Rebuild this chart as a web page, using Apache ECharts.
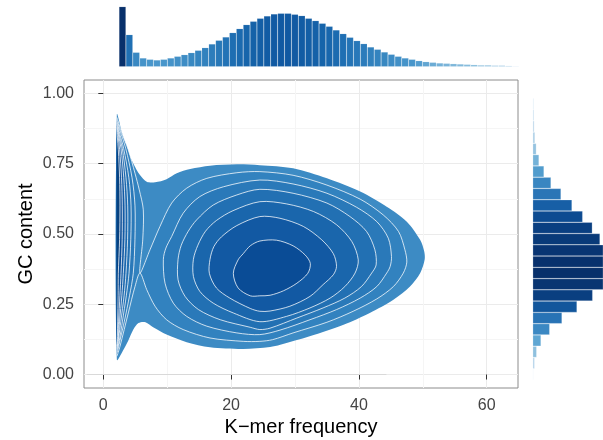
<!DOCTYPE html>
<html>
<head>
<meta charset="utf-8">
<script src="https://cdn.jsdelivr.net/npm/echarts@6/dist/echarts.min.js"></script>
<style>
  html, body { margin: 0; padding: 0; background: #fff; }
  #chart { width: 603px; height: 440px; }
</style>
</head>
<body>
<div id="chart"></div>
<script>
// ---- marginal histogram on top: k-mer frequency bins and their heights
const kmerBins = [2,3,4,5,6,7,8,9,10,11,12,13,14,15,16,17,18,19,20,21,22,23,24,25,26,27,28,29,30,31,
  32,33,34,35,36,37,38,39,40,41,42,43,44,45,46,47,48,49,50,51,52,53,54,55,56,57,58,59]
const kmerCounts = [180,96,43,26,22,20,22,26,31,36,42,49,57,68,79,89,102,114,126,136,145,152,158,160,160,
  157,153,145,138,130,121,110,99,88,78,69,59,52,44,37,31,26,22,18,15,13,11,10,9,8,7,6,5,5,4,4,3,2]

// ---- marginal histogram on the right: GC bins (bottom -> top)
const gcBins = ['0.00','0.04','0.08','0.12','0.16','0.20','0.24','0.28','0.32','0.36','0.40','0.44','0.48',
  '0.52','0.56','0.60','0.64','0.68','0.72','0.76','0.80','0.84','0.88','0.92','0.96']
const gcCounts = [2,6,12,25,51,88,133,180,228,250,245,225,202,179,150,118,85,55,34,19,11,7,5,4,3]

// ---- density contours, [k-mer frequency, GC content]
const outerBoundary = [[2.12,0.053],[3.2,0.09],[3.9,0.12],[4.7,0.16],[5.5,0.183],[6.6,0.186],[7.8,0.168],
  [9.9,0.142],[13.05,0.115],[16.7,0.097],[21.9,0.091],[26.1,0.098],[27.7,0.106],[32.3,0.136],[37.6,0.177],
  [41.7,0.219],[45.4,0.266],[48.0,0.313],[49.6,0.361],[50.3,0.41],[50.2,0.44],[49.6,0.479],[47.5,0.544],
  [44.35,0.597],[40.2,0.651],[35.0,0.698],[29.7,0.734],[24.5,0.745],[20.9,0.748],[16.7,0.743],[13.6,0.731],
  [11.5,0.716],[9.9,0.695],[8.1,0.684],[6.8,0.686],[5.74,0.71],[4.69,0.751],[3.66,0.805],[2.88,0.864],[2.12,0.925]]
const contourL1 = [[2.14,0.065],[2.61,0.10],[3.91,0.219],[4.96,0.313],[5.74,0.361],[6.8,0.302],[8.1,0.243],
  [9.9,0.195],[12.5,0.16],[16.7,0.13],[21.9,0.118],[24.5,0.118],[26.5,0.124],[29.7,0.148],[35.0,0.186],
  [39.1,0.225],[42.8,0.269],[45.4,0.313],[46.95,0.361],[47.5,0.40],[47.2,0.444],[46.2,0.509],[43.8,0.568],
  [40.2,0.624],[35.0,0.674],[29.7,0.709],[24.5,0.722],[20.9,0.718],[16.2,0.698],[13.05,0.663],[10.7,0.61],
  [8.87,0.527],[7.31,0.444],[5.74,0.361],[6.17,0.479],[6.26,0.586],[5.63,0.657],[4.96,0.716],[3.9,0.80],
  [2.9,0.86],[2.14,0.915]]
const contourL2 = [[9.4,0.41],[9.8,0.45],[10.7,0.491],[12.5,0.574],[15.1,0.633],[18.8,0.668],[24.5,0.692],
  [29.7,0.678],[35.0,0.645],[39.65,0.595],[42.8,0.544],[44.6,0.485],[45.1,0.42],[44.9,0.385],[44.35,0.361],
  [42.8,0.313],[40.2,0.272],[36.5,0.231],[32.35,0.195],[27.65,0.158],[24.5,0.142],[20.9,0.148],[16.2,0.172],
  [13.05,0.207],[10.96,0.254],[9.66,0.325]]
const contourL3 = [[11.7,0.41],[12.2,0.46],[13.3,0.51],[14.6,0.55],[17.2,0.603],[20.9,0.639],[24.5,0.659],
  [29.7,0.645],[35.0,0.61],[38.6,0.562],[41.2,0.509],[42.5,0.444],[42.7,0.39],[42.0,0.361],[40.4,0.313],
  [37.8,0.272],[34.4,0.237],[30.3,0.201],[26.1,0.165],[24.5,0.160],[23.0,0.168],[18.3,0.195],[14.9,0.231],
  [12.8,0.278],[11.7,0.337]]
const contourL4 = [[14.1,0.41],[14.8,0.46],[16.0,0.51],[17.7,0.548],[20.3,0.583],[24.5,0.615],[28.7,0.607],
  [32.9,0.58],[36.5,0.533],[38.9,0.473],[39.9,0.408],[39.4,0.361],[37.8,0.313],[35.5,0.272],[32.35,0.237],
  [28.7,0.207],[24.5,0.188],[20.35,0.219],[17.2,0.254],[15.1,0.296],[14.1,0.349]]
const contourL5 = [[16.7,0.41],[17.3,0.455],[18.5,0.49],[20.9,0.53],[24.5,0.562],[27.65,0.556],[31.3,0.527],
  [34.2,0.479],[36.0,0.43],[36.5,0.385],[36.0,0.355],[34.4,0.32],[32.35,0.278],[29.2,0.243],[26.1,0.226],
  [24.5,0.225],[23.0,0.235],[19.8,0.272],[17.7,0.308],[16.6,0.36]]
const contourL6 = [[21.1,0.408],[21.9,0.43],[23.0,0.458],[24.5,0.475],[27.1,0.478],[29.7,0.458],[31.6,0.425],
  [32.4,0.395],[32.0,0.36],[30.3,0.325],[28.2,0.298],[26.1,0.282],[24.5,0.28],[23.0,0.28],[21.1,0.308],[20.35,0.36]]
// narrow lobe of low-frequency k-mers, bottom-left -> right side -> top-left
const spikeL2 = [[2.14,0.075],[2.6,0.12],[3.3,0.19],[4.1,0.28],[4.69,0.36],[4.95,0.48],[4.96,0.60],[4.5,0.70],[3.5,0.805],[2.6,0.87],[2.14,0.91]]
const spikeL3 = [[2.14,0.08],[2.5,0.12],[3.0,0.19],[3.6,0.28],[4.02,0.36],[4.3,0.48],[4.34,0.60],[4.0,0.70],[3.18,0.805],[2.5,0.865],[2.14,0.905]]
const spikeL4 = [[2.14,0.085],[2.4,0.13],[2.75,0.19],[3.25,0.28],[3.55,0.36],[3.8,0.48],[3.82,0.60],[3.55,0.70],[2.97,0.805],[2.42,0.86],[2.14,0.90]]
const spikeL5 = [[2.14,0.09],[2.33,0.13],[2.55,0.19],[2.9,0.28],[3.13,0.36],[3.38,0.48],[3.40,0.60],[3.2,0.70],[2.77,0.805],[2.36,0.855],[2.14,0.895]]
const spikeL6 = [[2.14,0.095],[2.27,0.135],[2.4,0.19],[2.6,0.28],[2.77,0.36],[2.95,0.48],[2.97,0.60],[2.85,0.70],[2.56,0.80],[2.3,0.85],[2.14,0.89]]
const spikeL7 = [[2.14,0.10],[2.2,0.14],[2.25,0.19],[2.32,0.28],[2.35,0.36],[2.55,0.48],[2.61,0.60],[2.55,0.70],[2.35,0.80],[2.2,0.845],[2.14,0.88]]

// faint trace of k-mers with GC = 0
const zeroGcSpan = [[-2.6, 0], [44.3, 0]]

// ---- styling
const levelFills = ['#3d8bc4', '#3282bf', '#2a79b9', '#2270b3', '#1a66ac', '#1259a3', '#0a4c96', '#08427f']
const contours = [
  { pts: outerBoundary, level: 0, stroke: null },
  { pts: contourL1, level: 1, stroke: 'open' },
  { pts: contourL2, level: 2, stroke: 'closed' },
  { pts: spikeL2, level: 2, stroke: 'open' },
  { pts: contourL3, level: 3, stroke: 'closed' },
  { pts: spikeL3, level: 3, stroke: 'open' },
  { pts: contourL4, level: 4, stroke: 'closed' },
  { pts: spikeL4, level: 4, stroke: 'open' },
  { pts: contourL5, level: 5, stroke: 'closed' },
  { pts: spikeL5, level: 5, stroke: 'open' },
  { pts: contourL6, level: 6, stroke: 'closed' },
  { pts: spikeL6, level: 6, stroke: 'open' },
  { pts: spikeL7, level: 7, stroke: 'open' },
]

const topStops = [[0,'#c6dbef'],[6,'#8cc0de'],[20,'#4a97cc'],[45,'#3787c1'],[96,'#2070b4'],
  [130,'#1664aa'],[160,'#1159a2'],[170,'#0d4889'],[180,'#08306b']]
const rightStops = [[0,'#e3eef8'],[6,'#b6d4ea'],[12,'#8ec0de'],[25,'#5ea6d3'],[50,'#3b89c3'],
  [85,'#2a75b6'],[118,'#175fa6'],[150,'#0d4b91'],[180,'#0a3f80'],[250,'#08306b']]

const hex = (c) => [1, 3, 5].map((i) => parseInt(c.slice(i, i + 2), 16))
const ramp = (stops, v) => {
  for (let i = 1; i < stops.length; i++) {
    if (v <= stops[i][0]) {
      const t = (v - stops[i - 1][0]) / (stops[i][0] - stops[i - 1][0])
      const a = hex(stops[i - 1][1]), b = hex(stops[i][1])
      return 'rgb(' + a.map((x, k) => Math.round(x + (b[k] - x) * t)).join(',') + ')'
    }
  }
  return stops[stops.length - 1][1]
}

const font = "'Liberation Sans', Arial, Helvetica, sans-serif"
const lineColor = 'rgba(255,255,255,0.85)'
const hidden = { show: false }

const chart = echarts.init(document.getElementById('chart'))

chart.setOption({
  animation: false,
  backgroundColor: '#fff',
  grid: [
    { left: 84, top: 80, width: 434, height: 308, outerBoundsMode: 'none', show: true, borderColor: '#8c8c8c', borderWidth: 1, backgroundColor: '#fff' },
    { left: 119, top: 0, width: 400, height: 66.7, outerBoundsMode: 'none' },
    // right strip runs past the window edge; long bars are cut there
    { left: 532.7, top: 98.3, width: 70.3, height: 281.7, outerBoundsMode: 'none' },
  ],
  xAxis: [
    {
      gridIndex: 0, type: 'value', min: -3.02, max: 64.9,
      name: 'K\u2212mer frequency', nameLocation: 'middle', nameGap: 29, nameMoveOverlap: false,
      nameTextStyle: { fontSize: 20, color: '#000', fontFamily: font },
      axisLine: hidden,
      axisTick: { show: true, length: 5, lineStyle: { color: '#333' }, customValues: [0, 20, 40, 60] },
      axisLabel: { color: '#444', fontSize: 16, margin: 10, fontFamily: font, customValues: [0, 20, 40, 60] },
      splitLine: { show: true, lineStyle: { color: '#ebebeb', width: 1 } },
    },
    {
      // minor grid
      gridIndex: 0, type: 'value', min: -3.02, max: 64.9, position: 'bottom',
      axisLine: hidden, axisLabel: { show: false, customValues: [10, 30, 50] },
      axisTick: { show: false, customValues: [10, 30, 50] },
      splitLine: { show: true, lineStyle: { color: '#f5f5f5', width: 1 } },
    },
    { gridIndex: 1, type: 'category', data: kmerBins, boundaryGap: true, show: false },
    { gridIndex: 2, type: 'value', min: 0, max: 211, show: false, splitLine: hidden },
  ],
  yAxis: [
    {
      gridIndex: 0, type: 'value', min: -0.048, max: 1.048,
      name: 'GC content', nameLocation: 'middle', nameGap: 48, nameMoveOverlap: false,
      nameTextStyle: { fontSize: 20, color: '#000', fontFamily: font },
      axisLine: hidden,
      axisTick: { show: true, length: 5, lineStyle: { color: '#333' }, customValues: [0, 0.25, 0.5, 0.75, 1] },
      axisLabel: {
        color: '#444', fontSize: 16, margin: 10, fontFamily: font,
        customValues: [0, 0.25, 0.5, 0.75, 1],
        formatter: (v) => Number(v).toFixed(2),
      },
      splitLine: { show: true, lineStyle: { color: '#ebebeb', width: 1 } },
    },
    {
      gridIndex: 0, type: 'value', min: -0.048, max: 1.048,
      axisLine: hidden, axisLabel: { show: false, customValues: [0.125, 0.375, 0.625, 0.875] },
      axisTick: { show: false, customValues: [0.125, 0.375, 0.625, 0.875] },
      splitLine: { show: true, lineStyle: { color: '#f5f5f5', width: 1 } },
    },
    { gridIndex: 1, type: 'value', min: 0, max: 200, show: false, splitLine: hidden },
    { gridIndex: 2, type: 'category', data: gcBins, boundaryGap: true, show: false },
  ],
  series: [
    {
      type: 'line', xAxisIndex: 0, yAxisIndex: 0, data: zeroGcSpan, symbol: 'none',
      lineStyle: { color: '#d9d9d9', width: 1 }, silent: true,
    },
    {
      type: 'custom', xAxisIndex: 0, yAxisIndex: 0, silent: true,
      data: contours.map((c) => c.pts[0]),
      renderItem: (params, api) => {
        const c = contours[params.dataIndex]
        const pts = c.pts.map((p) => api.coord(p))
        const children = [{
          type: 'polygon', shape: { points: pts, smooth: 0.3 },
          style: { fill: levelFills[c.level], stroke: 'none' },
        }]
        if (c.stroke) {
          children.push({
            type: c.stroke === 'closed' ? 'polygon' : 'polyline',
            shape: { points: pts, smooth: 0.3 },
            style: { fill: 'none', stroke: lineColor, lineWidth: 0.9 },
          })
        }
        return { type: 'group', children }
      },
    },
    {
      type: 'bar', xAxisIndex: 2, yAxisIndex: 2, data: kmerCounts, barCategoryGap: '0%',
      itemStyle: { color: (p) => ramp(topStops, p.value), borderColor: 'rgba(255,255,255,0.2)', borderWidth: 0.5 },
      silent: true,
    },
    {
      type: 'bar', xAxisIndex: 3, yAxisIndex: 3, data: gcCounts, barCategoryGap: '0%',
      itemStyle: { color: (p) => ramp(rightStops, p.value), borderColor: 'rgba(255,255,255,0.45)', borderWidth: 0.5 },
      silent: true,
    },
  ],
})
</script>
</body>
</html>
